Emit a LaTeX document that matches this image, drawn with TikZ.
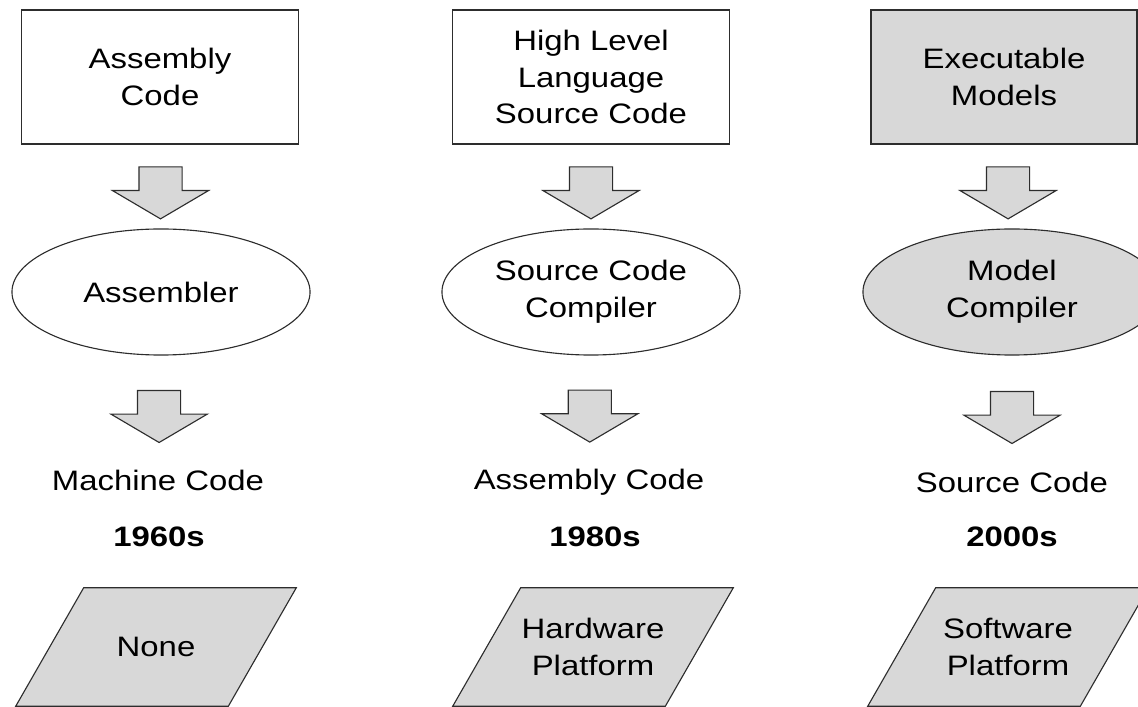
\documentclass[tikz,border=0pt]{standalone}
\usepackage{fontspec}
\setmainfont[FakeStretch=1.17]{Liberation Sans}
\usetikzlibrary{backgrounds}
\usetikzlibrary{shapes.geometric}
\usetikzlibrary{shapes.arrows}
\definecolor{boxgray}{RGB}{216,216,216}
\definecolor{edgegray}{RGB}{45,45,45}
\tikzset{every node/.style={font=\fontsize{20}{26}\selectfont,align=center},
 codebox/.style={draw=edgegray,line width=0.8pt,minimum width=6.925cm,minimum height=3.35cm},
 compiler/.style={ellipse,draw=edgegray,line width=0.8pt,minimum width=7.45cm,minimum height=3.15cm},
 platform/.style={minimum width=5.3cm,minimum height=2.95cm},
 slanted/.style={draw=edgegray,line width=0.8pt,fill=boxgray},
 fatarrow/.style={single arrow,draw=edgegray,line width=0.8pt,fill=boxgray,rotate=-90,
   inner xsep=0pt,inner ysep=0.525cm,minimum height=1.3cm,minimum width=2.375cm,
   single arrow head extend=0.6625cm,single arrow tip angle=119},
 decade/.style={font=\fontsize{20}{26}\selectfont\bfseries},
 grayfill/.style={fill=boxgray},
 }
\newcommand{\platshape}[1]{\filldraw[slanted] ([xshift=0.85cm]#1.north west) -- ([xshift=0.85cm]#1.north east)
    -- ([xshift=-0.85cm]#1.south east) -- ([xshift=-0.85cm]#1.south west) -- cycle;}

\begin{document}
\begin{tikzpicture}[x=0.025cm,y=-0.025cm]
    \useasboundingbox (0,0) rectangle (1138,707);
    \node[codebox] (in1) at (160,77) {Assembly\\Code};
    \node[codebox] (in2) at (591,77) {High Level\\Language\\Source Code};
    \node[codebox,grayfill,minimum width=6.65cm] (in3) at (1004,77) {Executable\\Models};
    \node[compiler] (tool1) at (161,292) {Assembler};
    \node[compiler] (tool2) at (591,292) {Source Code\\Compiler};
    \node[compiler,grayfill] (tool3) at (1012,292) {Model\\Compiler};
    \node (out1) at (158,480) {Machine Code};
    \node (out2) at (589,482) {Assembly Code};
    \node (out3) at (1012,482) {Source Code};
    \node[decade] (year1) at (159,537) {1960s};
    \node[decade] (year2) at (595,537) {1980s};
    \node[decade] (year3) at (1012,537) {2000s};
    \node[platform] (plat1) at (156,647) {None};
    \node[platform] (plat2) at (593,647) {Hardware\\Platform};
    \node[platform] (plat3) at (1008,647) {Software\\Platform};
    \begin{scope}[on background layer]
        \platshape{plat1}
        \platshape{plat2}
        \platshape{plat3}
    \end{scope}
    \path (in1) -- (tool1) node[midway,fatarrow] {};
    \path (in2) -- (tool2) node[midway,fatarrow] {};
    \path (in3) -- (tool3) node[midway,fatarrow] {};
    \path (tool1) -- (out1) node[midway,fatarrow] {};
    \path (tool2) -- (out2) node[midway,fatarrow] {};
    \path (tool3) -- (out3) node[midway,fatarrow] {};
\end{tikzpicture}
\end{document}
